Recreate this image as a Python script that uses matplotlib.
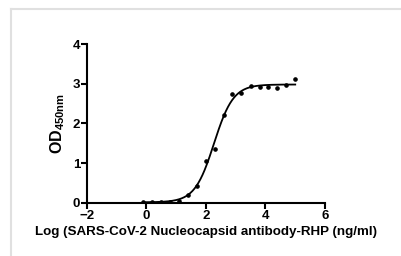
import numpy as np
import matplotlib
matplotlib.use("Agg")
import matplotlib.pyplot as plt
from matplotlib.lines import Line2D

# log10 concentration (ng/ml) and OD450 readings
log_conc = [-0.12, 0.18, 0.49, 0.79, 1.09, 1.39, 1.69, 1.99, 2.29,
            2.59, 2.89, 3.19, 3.50, 3.80, 4.10, 4.40, 4.70, 5.00]
od450 = [0.01, 0.03, 0.03, 0.03, 0.04, 0.19, 0.42, 1.06, 1.35,
         2.20, 2.74, 2.76, 2.95, 2.91, 2.92, 2.88, 2.96, 3.11]

x_ticks = [-2, 0, 2, 4, 6]
y_ticks = [0, 1, 2, 3, 4]


def fit_4pl(x, y):
    # grid search on logEC50 / hill, bottom & top by linear least squares
    x = np.asarray(x)
    y = np.asarray(y)
    best = None
    for c in np.linspace(1.0, 3.5, 251):
        for h in np.linspace(0.3, 3.0, 271):
            s = 1.0 / (1.0 + 10 ** ((c - x) * h))
            A = np.column_stack([1 - s, s])
            coef, *_ = np.linalg.lstsq(A, y, rcond=None)
            err = np.sum((A @ coef - y) ** 2)
            if best is None or err < best[0]:
                best = (err, coef[0], coef[1], c, h)
    return best[1:]


bottom, top, logec50, hill = fit_4pl(log_conc, od450)
xf = np.linspace(min(log_conc), max(log_conc), 300)
yf = bottom + (top - bottom) / (1 + 10 ** ((logec50 - xf) * hill))

plt.rcParams['font.family'] = ['Liberation Sans', 'DejaVu Sans']
plt.rcParams['font.weight'] = 'bold'
plt.rcParams['mathtext.fontset'] = 'custom'
plt.rcParams['mathtext.rm'] = 'Liberation Sans:bold'
plt.rcParams['mathtext.bf'] = 'Liberation Sans:bold'

fig = plt.figure(figsize=(4.02, 2.56), dpi=100)
ax = fig.add_axes([0.2164, 0.2082, 0.592, 0.6198])

ax.plot(xf, yf, color="black", lw=1.3)
ax.plot(log_conc, od450, "o", color="black", ms=2.3)

ax.set_xlim(-2, 6)
ax.set_ylim(0, 4)
ax.set_xticks(x_ticks)
ax.set_yticks(y_ticks)
ax.spines["top"].set_visible(False)
ax.spines["right"].set_visible(False)
for sp in ("left", "bottom"):
    ax.spines[sp].set_linewidth(1.5)
ax.tick_params(direction="out", length=4, width=1.5, labelsize=9.5, pad=1)
for lab in ax.get_xticklabels() + ax.get_yticklabels():
    lab.set_fontweight("bold")

ax.set_ylabel(r"OD$_{\mathrm{450nm}}$", fontsize=11.5, fontweight="bold", labelpad=4)
ax.set_xlabel("Log (SARS-CoV-2 Nucleocapsid antibody-RHP (ng/ml)",
              fontsize=9.6, fontweight="bold", labelpad=3)

# light gray frame lines at top and left
fig.add_artist(Line2D([11 / 402, 1], [1 - 9 / 256, 1 - 9 / 256],
                      transform=fig.transFigure, color="#e0e0e0", lw=1.5))
fig.add_artist(Line2D([11 / 402, 11 / 402], [0, 1 - 9 / 256],
                      transform=fig.transFigure, color="#e0e0e0", lw=1.5))

fig.savefig("out.png", dpi=100)
